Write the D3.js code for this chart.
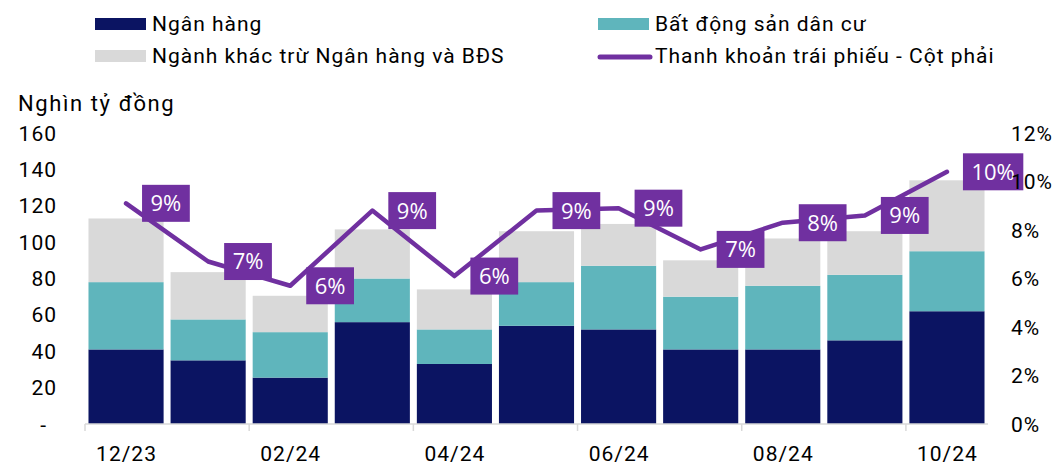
<!DOCTYPE html>
<html>
<head>
<meta charset="utf-8">
<script src="https://cdn.jsdelivr.net/npm/d3@7"></script>
<style>
  body { margin: 0; background: #fff; }
  svg { display: block; font-family: Roboto, "Noto Sans", sans-serif; }
  .lbl { letter-spacing: 1px; }
</style>
</head>
<body>
<svg id="chart" width="1059" height="465"></svg>
<script>
// months on the x axis
const months = ["12/23", "01/24", "02/24", "03/24", "04/24", "05/24", "06/24", "07/24", "08/24", "09/24", "10/24"];
// stacked bars, nghin ty dong
const nganHang = [41, 35, 25.5, 56, 33, 54, 52, 41, 41, 46, 62];
const batDongSan = [37, 22.5, 25, 24, 19, 24, 35, 29, 35, 36, 33];
const nganhKhac = [35, 26, 20, 27, 22, 28, 23, 20, 26, 24, 39];
// line, right axis (%)
const thanhKhoan = [9.1, 6.7, 5.7, 8.8, 6.1, 8.8, 8.9, 7.2, 8.3, 8.6, 10.4];

const leftTicks = [0, 20, 40, 60, 80, 100, 120, 140, 160];
const rightTicks = [0, 2, 4, 6, 8, 10, 12];

const seriesKeys = ["nganHang", "batDongSan", "nganhKhac"];
const colors = { nganHang: "#0B1462", batDongSan: "#5FB5BC", nganhKhac: "#D9D9D9" };
const lineColor = "#7030A0";

const svg = d3.select("#chart");

let x = d3.scaleBand().domain(months).range([85, 988]).paddingInner(0.085).paddingOuter(0.0425);
let y = d3.scaleLinear().domain([0, 160]).range([424, 133]);
let yRight = d3.scaleLinear().domain([0, 12]).range([424, 133]);

let table = months.map((m, i) => ({
  month: m,
  nganHang: nganHang[i],
  batDongSan: batDongSan[i],
  nganhKhac: nganhKhac[i],
}));
let stacked = d3.stack().keys(seriesKeys)(table);

// bars
svg.append("g")
  .selectAll("g")
  .data(stacked)
  .enter()
  .append("g")
  .attr("fill", (d) => colors[d.key])
  .selectAll("rect")
  .data((d) => d)
  .enter()
  .append("rect")
  .attr("x", (d) => x(d.data.month))
  .attr("width", x.bandwidth())
  .attr("y", (d) => y(d[1]))
  .attr("height", (d) => y(d[0]) - y(d[1]));

// x axis line + ticks every second month
let xAxis = svg.append("g");
xAxis.append("line")
  .attr("x1", 85).attr("x2", 988)
  .attr("y1", y(0)).attr("y2", y(0))
  .attr("stroke", "#D9D9D9").attr("stroke-width", 1.5);

let labelled = months.filter((m, i) => i % 2 === 0);
let gap = x.step() * x.paddingInner() / 2;
xAxis.selectAll(".tick")
  .data(labelled)
  .enter()
  .append("line")
  .attr("x1", (d) => x(d) - gap).attr("x2", (d) => x(d) - gap)
  .attr("y1", y(0)).attr("y2", y(0) + 7)
  .attr("stroke", "#D9D9D9").attr("stroke-width", 1.5);
xAxis.selectAll("text")
  .data(labelled)
  .enter()
  .append("text")
  .attr("class", "lbl")
  .attr("x", (d) => x(d) + x.bandwidth() / 2 + 0.5)
  .attr("y", 461)
  .attr("text-anchor", "middle")
  .attr("font-size", 21)
  .attr("fill", "#000")
  .text((d) => d);

// line
let cx = (i) => x(months[i]) + x.bandwidth() / 2;
let line = d3.line()
  .x((d, i) => cx(i))
  .y((d) => yRight(d));

svg.append("path")
  .datum(thanhKhoan)
  .attr("d", line)
  .attr("fill", "none")
  .attr("stroke", lineColor)
  .attr("stroke-width", 4.5)
  .attr("stroke-linejoin", "round")
  .attr("stroke-linecap", "round");

// data labels
let labels = svg.append("g")
  .selectAll("g")
  .data(thanhKhoan)
  .enter()
  .append("g")
  .attr("transform", (d, i) => `translate(${cx(i) + 16},${yRight(d)})`);

labels.append("rect").attr("fill", lineColor);
labels.append("text")
  .attr("font-family", "'Open Sans', sans-serif")
  .attr("font-size", 22)
  .attr("fill", "#fff")
  .attr("dy", "0.36em")
  .text((d) => Math.round(d) + "%");

labels.each(function () {
  let g = d3.select(this);
  let w = g.select("text").node().getComputedTextLength();
  g.select("text").attr("x", 8.5);
  g.select("rect").attr("x", 0).attr("y", -18.5).attr("width", w + 17).attr("height", 37);
});

// left axis
svg.append("g")
  .selectAll("text")
  .data(leftTicks)
  .enter()
  .append("text")
  .attr("class", "lbl")
  .attr("x", (d) => (d === 0 ? 47 : 57))
  .attr("y", (d) => y(d))
  .attr("dy", "0.36em")
  .attr("text-anchor", "end")
  .attr("font-size", 21)
  .attr("fill", "#000")
  .text((d) => (d === 0 ? "-" : d));

// right axis
svg.append("g")
  .selectAll("text")
  .data(rightTicks)
  .enter()
  .append("text")
  .attr("class", "lbl")
  .attr("x", 1011)
  .attr("y", (d) => yRight(d))
  .attr("dy", "0.36em")
  .attr("font-size", 21)
  .attr("fill", "#000")
  .text((d) => d + "%");

svg.append("text")
  .attr("x", 18)
  .attr("y", 111)
  .attr("font-size", 22)
  .attr("letter-spacing", 1.6)
  .attr("fill", "#000")
  .text("Nghìn tỷ đồng");

// legend
const legendItems = [
  { label: "Ngân hàng", key: "nganHang", x: 95, y: 24 },
  { label: "Bất động sản dân cư", key: "batDongSan", x: 598, y: 24 },
  { label: "Ngành khác trừ Ngân hàng và BĐS", key: "nganhKhac", x: 95, y: 56 },
  { label: "Thanh khoản trái phiếu - Cột phải", key: "line", x: 598, y: 56 },
];

let legend = svg.append("g")
  .selectAll("g")
  .data(legendItems)
  .enter()
  .append("g")
  .attr("transform", (d) => `translate(${d.x},${d.y})`);

legend.filter((d) => d.key !== "line")
  .append("rect")
  .attr("x", 0).attr("y", -6)
  .attr("width", 51).attr("height", 12)
  .attr("fill", (d) => colors[d.key]);

legend.filter((d) => d.key === "line")
  .append("line")
  .attr("x1", 2).attr("x2", 52)
  .attr("y1", 1).attr("y2", 1)
  .attr("stroke", lineColor)
  .attr("stroke-width", 5)
  .attr("stroke-linecap", "round");

legend.append("text")
  .attr("class", "lbl")
  .attr("x", 57)
  .attr("y", 6.5)
  .attr("font-size", 21)
  .attr("fill", "#000")
  .text((d) => d.label);
</script>
</body>
</html>
